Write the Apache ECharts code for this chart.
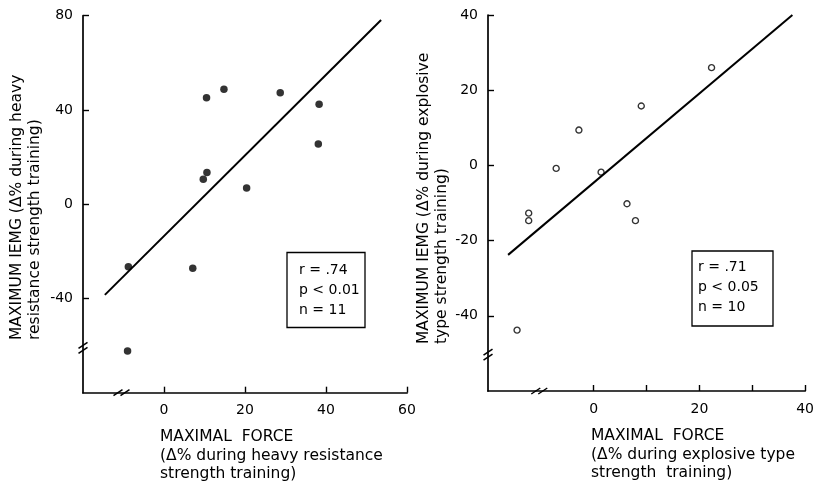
<!DOCTYPE html>
<html>
<head>
<meta charset="utf-8">
<script src="https://cdn.jsdelivr.net/npm/echarts@6/dist/echarts.min.js"></script>
<style>html,body{margin:0;padding:0;background:#fff;}#c{width:817px;height:485px;}</style>
</head>
<body>
<div id="c"></div>
<script>
// Left panel: heavy resistance strength training
const heavyForce = [10.5, 14.8, 28.7, 38.3, 38.1, 10.6, 9.7, 20.4, -8.8, 7.1, -9.0];
const heavyIemg  = [45.2, 48.8, 47.3, 42.4, 25.6, 13.5, 10.6, 6.9, -26.5, -27.2, -62.3];
const heavyFitX = [-14.6, 53.6];
const heavyFitY = [-38.5, 78.2];
const heavyXTicks = [0, 20, 40, 60];
const heavyYTicks = [-40, 0, 40, 80];
const heavyStats = ['r = .74', 'p < 0.01', 'n = 11'];

// Right panel: explosive type strength training
const explForce = [22.3, 9.0, -2.8, -7.1, 1.4, 6.3, 7.9, -12.3, -12.3, -14.5];
const explIemg  = [26.0, 15.8, 9.4, -0.8, -1.8, -10.2, -14.7, -12.7, -14.7, -43.8];
const explFitX = [-16.2, 37.6];
const explFitY = [-23.8, 40.0];
const explXTicks = [0, 10, 20, 30, 40];
const explXLabels = [0, 20, 40];
const explYTicks = [-40, -20, 0, 20, 40];
const explStats = ['r = .71', 'p < 0.05', 'n = 10'];

const FONT = 'DejaVu Sans';
const chart = echarts.init(document.getElementById('c'), null, {renderer: 'canvas'});

function xAxisCfg(gi, min, max, interval, ticks, labels) {
  return {
    type: 'value', gridIndex: gi, min: min, max: max, interval: interval,
    splitLine: {show: false},
    axisLine: {show: true, onZero: false, lineStyle: {color: '#000', width: 1.7}},
    axisTick: {show: true, inside: true, length: 6, customValues: ticks, lineStyle: {color: '#000', width: 1.4}},
    axisLabel: {show: true, customValues: labels, margin: 11, color: '#000', fontFamily: FONT, fontSize: 14}
  };
}
function yAxisCfg(gi, min, max, interval, ticks) {
  return {
    type: 'value', gridIndex: gi, min: min, max: max, interval: interval,
    splitLine: {show: false},
    axisLine: {show: true, onZero: false, lineStyle: {color: '#000', width: 1.7}},
    axisTick: {show: true, inside: true, length: 6, customValues: ticks, lineStyle: {color: '#000', width: 1.4}},
    axisLabel: {show: true, customValues: ticks, margin: 10, color: '#000', fontFamily: FONT, fontSize: 14}
  };
}
function zip(a, b) { return a.map((v, i) => [v, b[i]]); }

chart.setOption({
  animation: false,
  backgroundColor: '#fff',
  grid: [
    {left: 83, top: 15.7, width: 324, height: 377},
    {left: 488, top: 15, width: 322, height: 376}
  ],
  xAxis: [
    xAxisCfg(0, -20, 60, 20, heavyXTicks, heavyXTicks),
    xAxisCfg(1, -20, 40, 10, explXTicks, explXLabels)
  ],
  yAxis: [
    yAxisCfg(0, -80, 80, 40, heavyYTicks),
    yAxisCfg(1, -60, 40, 20, explYTicks)
  ],
  series: [
    {type: 'line', xAxisIndex: 0, yAxisIndex: 0, data: zip(heavyFitX, heavyFitY), symbol: 'none',
     lineStyle: {color: '#000', width: 2}, clip: false, silent: true},
    {type: 'scatter', xAxisIndex: 0, yAxisIndex: 0, data: zip(heavyForce, heavyIemg), symbol: 'circle', symbolSize: 7.5,
     itemStyle: {color: '#000'}},
    {type: 'line', xAxisIndex: 1, yAxisIndex: 1, data: zip(explFitX, explFitY), symbol: 'none',
     lineStyle: {color: '#000', width: 2}, clip: false, silent: true},
    {type: 'scatter', xAxisIndex: 1, yAxisIndex: 1, data: zip(explForce, explIemg), symbol: 'circle', symbolSize: 6,
     itemStyle: {color: '#fff', borderColor: '#000', borderWidth: 1.4}}
  ]
});

// Axis breaks (positions in axis values)
const breaks = [
  {g: 0, axis: 'y', v: -61, other: -20},
  {g: 0, axis: 'x', v: -10.5, other: -80},
  {g: 1, axis: 'y', v: -50.3, other: -20},
  {g: 1, axis: 'x', v: -10.3, other: -60}
];
const graphics = [];
breaks.forEach(b => {
  const p = b.axis === 'y'
    ? chart.convertToPixel({gridIndex: b.g}, [b.other, b.v])
    : chart.convertToPixel({gridIndex: b.g}, [b.v, b.other]);
  const offs = [-2.5, 2.5];
  offs.forEach(o => {
    let shape;
    if (b.axis === 'y') shape = {x1: p[0] - 4.5, y1: p[1] + 3 + o, x2: p[0] + 4.5, y2: p[1] - 3 + o};
    else shape = {x1: p[0] - 4.5 + o * 1.4, y1: p[1] + 3, x2: p[0] + 4.5 + o * 1.4, y2: p[1] - 3};
    graphics.push({type: 'line', shape: shape, style: {stroke: '#000', lineWidth: 1.5}, silent: true});
  });
});

const TITLE_FONT = '15.5px ' + FONT;
const txt = (x, y, text, font, lh) => ({
  type: 'text', x: x, y: y, silent: true,
  style: {text: text, fill: '#000', font: font, textAlign: 'left', textVerticalAlign: 'top', lineHeight: lh}
});

// Y-axis titles (rotated)
graphics.push({type: 'text', x: 26, y: 340, rotation: Math.PI / 2, silent: true,
  style: {text: 'MAXIMUM IEMG (Δ% during heavy\nresistance strength training)', fill: '#000', font: TITLE_FONT,
          textAlign: 'left', textVerticalAlign: 'middle', lineHeight: 17.5}});
graphics.push({type: 'text', x: 433, y: 344, rotation: Math.PI / 2, silent: true,
  style: {text: 'MAXIMUM IEMG (Δ% during explosive\ntype strength training)', fill: '#000', font: TITLE_FONT,
          textAlign: 'left', textVerticalAlign: 'middle', lineHeight: 17.5}});

// X-axis titles
graphics.push(txt(160, 428, 'MAXIMAL  FORCE\n(Δ% during heavy resistance\nstrength training)', TITLE_FONT, 18.5));
graphics.push(txt(591, 427, 'MAXIMAL  FORCE\n(Δ% during explosive type\nstrength  training)', TITLE_FONT, 18.5));

// Stats boxes
graphics.push({type: 'rect', shape: {x: 287, y: 252.5, width: 78, height: 75}, style: {fill: '#fff', stroke: '#000', lineWidth: 1.3}, silent: true});
graphics.push(txt(299, 260, heavyStats.join('\n'), '14px ' + FONT, 20));
graphics.push({type: 'rect', shape: {x: 692, y: 251, width: 81, height: 75}, style: {fill: '#fff', stroke: '#000', lineWidth: 1.3}, silent: true});
graphics.push(txt(698, 257, explStats.join('\n'), '14px ' + FONT, 20));

chart.setOption({graphic: graphics});
</script>
</body>
</html>
